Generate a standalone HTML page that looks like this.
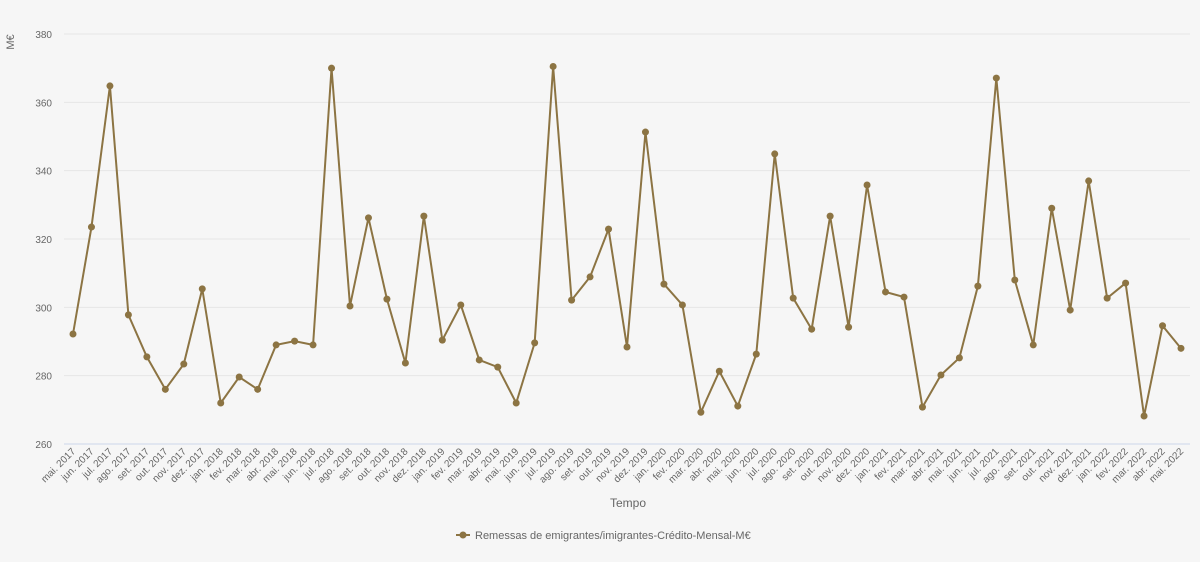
<!DOCTYPE html>
<html><head><meta charset="utf-8"><style>
body{margin:0;background:#f6f6f6;font-family:"Liberation Sans",sans-serif;}
svg text{font-family:"Liberation Sans",sans-serif;fill:#666;}
</style></head><body>
<svg id="chart" width="1200" height="557" xmlns="http://www.w3.org/2000/svg">
<rect width="1200" height="557" fill="#f6f6f6"/>
<g id="grid"></g><g id="xlabels"></g><g id="series"></g>
<text x="14" y="42" font-size="11" transform="rotate(-90 14 42)" text-anchor="middle">M€</text>
<text x="628" y="507" font-size="12" text-anchor="middle">Tempo</text>
<g>
<line x1="456" y1="535" x2="470" y2="535" stroke="#8c7443" stroke-width="2"/>
<circle cx="463" cy="535" r="3.5" fill="#8c7443"/>
<text x="475" y="539" font-size="11" fill="#444">Remessas de emigrantes/imigrantes-Crédito-Mensal-M€</text>
</g>
</svg>
<script>
const categories=["mai. 2017","jun. 2017","jul. 2017","ago. 2017","set. 2017","out. 2017","nov. 2017","dez. 2017","jan. 2018","fev. 2018","mar. 2018","abr. 2018","mai. 2018","jun. 2018","jul. 2018","ago. 2018","set. 2018","out. 2018","nov. 2018","dez. 2018","jan. 2019","fev. 2019","mar. 2019","abr. 2019","mai. 2019","jun. 2019","jul. 2019","ago. 2019","set. 2019","out. 2019","nov. 2019","dez. 2019","jan. 2020","fev. 2020","mar. 2020","abr. 2020","mai. 2020","jun. 2020","jul. 2020","ago. 2020","set. 2020","out. 2020","nov. 2020","dez. 2020","jan. 2021","fev. 2021","mar. 2021","abr. 2021","mai. 2021","jun. 2021","jul. 2021","ago. 2021","set. 2021","out. 2021","nov. 2021","dez. 2021","jan. 2022","fev. 2022","mar. 2022","abr. 2022","mai. 2022"];
const values=[292.2,323.5,364.8,297.8,285.5,276,283.4,305.4,272,279.6,276,289,290.1,289,370,300.4,326.2,302.4,283.7,326.7,290.4,300.7,284.6,282.5,272,289.6,370.5,302.1,308.9,322.9,288.4,351.3,306.8,300.7,269.3,281.3,271.1,286.3,344.9,302.7,293.6,326.7,294.2,335.8,304.5,303,270.8,280.2,285.2,306.2,367.1,308,289,329,299.2,337,302.7,307.1,268.2,294.6,288];
const yTicks=[260,280,300,320,340,360,380];
const NS="http://www.w3.org/2000/svg";
const L=64,R=1190,T=34,B=444,ymin=260,ymax=380;
const x=i=>73+i*(1181-73)/(categories.length-1);
const y=v=>B-(v-ymin)/(ymax-ymin)*(B-T);
const mk=(t,a,p)=>{const e=document.createElementNS(NS,t);for(const k in a)e.setAttribute(k,a[k]);p.appendChild(e);return e;};
const grid=document.getElementById('grid');
yTicks.forEach(v=>{
 const l=mk('line',{x1:L,x2:R,y1:y(v),y2:y(v),stroke:v===ymin?'#ccd6eb':'#e6e6e6','stroke-width':1},grid);
 
 
 const t=mk('text',{x:52,y:y(v)+4,'font-size':10,'text-anchor':'end'},grid);
 t.textContent=v;
 
 
});
const xl=document.getElementById('xlabels');
categories.forEach((c,i)=>{
 const t=mk('text',{x:x(i)+3,y:452,'font-size':10,'text-anchor':'end',transform:`rotate(-45 ${x(i)+3} 452)`},xl);
 t.textContent=c;
 
 
});
const s=document.getElementById('series');
const pl=mk('polyline',{points:values.map((v,i)=>x(i)+','+y(v)).join(' '),fill:'none',stroke:'#8c7443','stroke-width':2},s);


values.forEach((v,i)=>{
 const c=mk('circle',{cx:x(i),cy:y(v),r:3.5,fill:'#8c7443'},s);
 
 
});
</script>
</body></html>
